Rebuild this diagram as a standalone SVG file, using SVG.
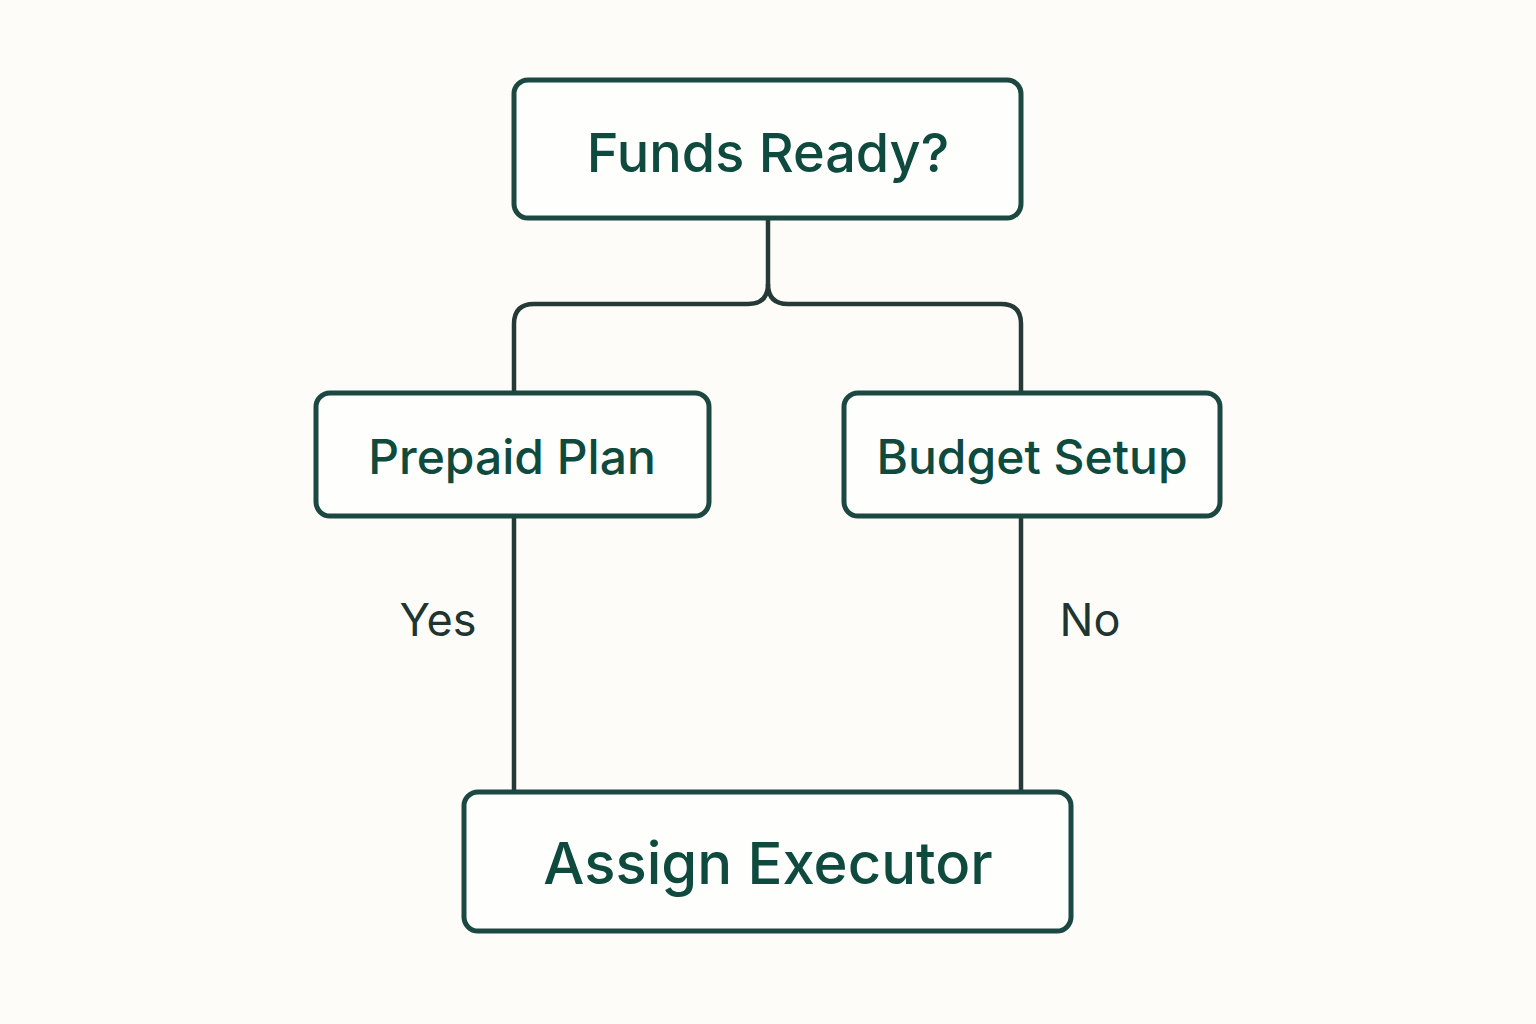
<svg xmlns="http://www.w3.org/2000/svg" width="1536" height="1024" viewBox="0 0 1536 1024">
<style>
.node{fill:#fefefc;stroke:#1b4840;stroke-width:5}
.nt{font-family:Inter,"Noto Sans",sans-serif;fill:#0f4a3e;text-anchor:middle;font-weight:500}
.conn{fill:none;stroke:#253a36;stroke-width:4.5}
.lbl{font-family:Inter,"Noto Sans",sans-serif;fill:#1f3531;text-anchor:middle;font-size:45px}
</style>
<rect width="1536" height="1024" fill="#fdfcf8"/>
<g id="connectors">
<path class="conn" d="M768 218 V284 Q768 304 748 304 H534 Q514 304 514 324 V393"/>
<path class="conn" d="M768 284 Q768 304 788 304 H1001 Q1021 304 1021 324 V393"/>
<path class="conn" d="M514 516 V792"/>
<path class="conn" d="M1021 516 V792"/>
<text class="lbl" x="438" y="636">Yes</text>
<text class="lbl" x="1090" y="636">No</text>
</g>
<g id="funds">
<rect class="node" x="514" y="80" width="507" height="138" rx="14"/>
<text class="nt" x="768" y="172" font-size="54">Funds Ready?</text>
</g>
<g id="prepaid">
<rect class="node" x="316" y="393" width="393" height="123" rx="14"/>
<text class="nt" x="512" y="474" font-size="48">Prepaid Plan</text>
</g>
<g id="budget">
<rect class="node" x="844" y="393" width="376" height="123" rx="14"/>
<text class="nt" x="1032" y="474" font-size="48">Budget Setup</text>
</g>
<g id="assign">
<rect class="node" x="464" y="792" width="607" height="139" rx="14"/>
<text class="nt" x="768" y="884" font-size="58">Assign Executor</text>
</g>
</svg>
